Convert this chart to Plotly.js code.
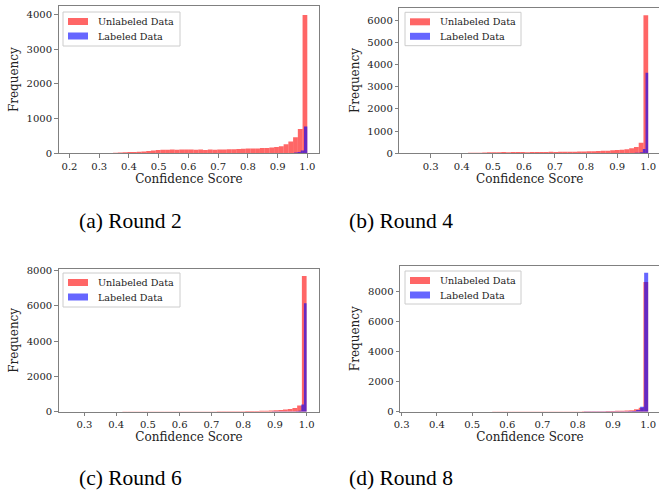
<!DOCTYPE html>
<html><head><meta charset="utf-8">
<script src="https://cdn.plot.ly/plotly-3.0.1.min.js"></script>
<style>html,body{margin:0;padding:0;background:#fff;overflow:hidden}#chart{width:661px;height:491px}</style>
</head><body><div id="chart"></div>
<script>
// ---- data ----
const panelLabels = ['(a) Round 2', '(b) Round 4', '(c) Round 6', '(d) Round 8'];
const seriesNames = ['Unlabeled Data', 'Labeled Data'];
const xTitle = 'Confidence Score';
const yTitle = 'Frequency';

// each histogram: 50 bins spanning [min, max]
const unlabeledRange2 = [0.203, 1.0];
const unlabeled2 = [0,1,1,2,2,3,5,8,12,16, 22,30,36,40,42,55,65,80,95,105,
                    100,108,105,110,108,112,105,110,95,108, 105,112,110,118,115,125,130,135,140,138,
                    150,155,165,180,200,260,340,460,700,3980];
const labeledRange2 = [0.445, 1.0];
const labeled2 = [0,0,0,0,0,0,0,0,0,0, 0,0,0,0,0,0,1,0,0,1, 0,1,0,1,1,0,1,1,1,1,
                  1,2,1,2,2,2,3,2,3,3, 3,4,4,5,8,12,20,40,80,770];

const unlabeledRange4 = [0.237, 1.0];
const unlabeled4 = [0,0,1,1,2,3,4,6,8,10, 14,18,22,26,30,35,42,48,50,55,
                    52,58,55,60,52,58,62,55,60,65, 62,68,70,72,75,80,85,90,95,105,
                    110,120,135,150,165,185,230,285,470,6220];
const labeledRange4 = [0.57, 1.0];
const labeled4 = [0,0,0,0,0,0,0,0,0,0, 0,0,0,0,0,0,0,1,0,1, 0,1,1,1,1,1,1,2,2,2,
                  2,2,3,3,4,4,5,6,7,8, 9,10,12,14,16,20,25,50,190,3630];

const unlabeledRange6 = [0.256, 1.0];
const unlabeled6 = [0,0,0,1,1,1,2,2,3,3, 4,5,5,6,7,8,8,9,10,10,
                    11,12,12,13,14,14,15,16,17,18, 18,20,22,24,26,28,32,36,40,45,
                    52,60,68,78,90,120,150,210,350,7700];
const labeledRange6 = [0.58, 1.0];
const labeled6 = [0,0,0,0,0,0,0,0,0,0, 0,0,0,0,0,0,0,1,0,1, 0,1,1,1,1,1,1,2,2,2,
                  2,2,3,3,3,4,4,5,5,6, 7,8,9,10,12,14,20,60,410,6150];

const unlabeledRange8 = [0.329, 1.0];
const unlabeled8 = [0,0,0,0,1,1,1,1,2,2, 2,3,3,3,4,4,4,5,5,5,
                    6,6,7,7,8,8,9,9,10,11, 12,14,15,17,19,21,24,27,30,34,
                    38,44,50,58,68,82,100,155,265,8600];
const labeledRange8 = [0.43, 1.0];
const labeled8 = [0,0,0,0,0,0,0,0,0,0, 0,0,0,0,0,1,0,1,0,1, 1,1,1,1,1,2,2,2,2,3,
                  3,3,4,4,5,5,6,7,8,9, 10,12,14,16,20,25,50,120,330,9220];

const xTickVals2 = [0.2,0.3,0.4,0.5,0.6,0.7,0.8,0.9,1.0];
const xTickVals = [0.3,0.4,0.5,0.6,0.7,0.8,0.9,1.0];
const yTickVals2 = [0,1000,2000,3000,4000];
const yTickVals4 = [0,1000,2000,3000,4000,5000,6000];
const yTickVals6 = [0,2000,4000,6000,8000];
const yTickVals8 = [0,2000,4000,6000,8000];

// ---- layout settings ----
const W = 661, H = 491;
const panels = [
  {u: unlabeled2, ur: unlabeledRange2, l: labeled2, lr: labeledRange2, xr: [0.163, 1.040], yr: [0, 4240], xt: xTickVals2, yt: yTickVals2,
   px: [58.5, 319.2], py: [6, 153.3], leg: [63, 12, 180, 46], cap: [130, 221]},
  {u: unlabeled4, ur: unlabeledRange4, l: labeled4, lr: labeledRange4, xr: [0.199, 1.038], yr: [0, 6555], xt: xTickVals, yt: yTickVals4,
   px: [399.3, 660], py: [7.7, 153.3], leg: [405, 12.3, 521, 45.7], cap: [401, 221]},
  {u: unlabeled6, ur: unlabeledRange6, l: labeled6, lr: labeledRange6, xr: [0.219, 1.040], yr: [0, 8096], xt: xTickVals, yt: yTickVals6,
   px: [58.7, 319.3], py: [269, 411.7], leg: [63, 273, 180, 307], cap: [130, 478]},
  {u: unlabeled8, ur: unlabeledRange8, l: labeled8, lr: labeledRange8, xr: [0.2953, 1.0336], yr: [0, 9680], xt: xTickVals, yt: yTickVals8,
   px: [400, 660], py: [265.7, 411.7], leg: [405, 271, 521, 304], cap: [401, 478]}
];

const FONT = 'DejaVu Serif';
const SPINE = '#808080';
const colors = ['rgba(255,0,0,0.6)', 'rgba(0,0,255,0.6)'];

function binTrace(counts, range, name, color, xa, ya) {
  const w = (range[1] - range[0]) / counts.length;
  const xs = counts.map((_, i) => range[0] + (i + 0.5) * w);
  return {type: 'bar', x: xs, y: counts, width: w, name: name, xaxis: xa, yaxis: ya,
          showlegend: false, marker: {color: color, line: {width: 0}}, hoverinfo: 'x+y'};
}

const traces = [];
const layout = {
  width: W, height: H, margin: {l: 0, r: 0, t: 0, b: 0},
  paper_bgcolor: '#fff', plot_bgcolor: '#fff', barmode: 'overlay',
  font: {family: FONT, color: '#222', size: 10},
  annotations: [], shapes: [], showlegend: false
};
const px2x = v => v / W, px2y = v => 1 - v / H;

panels.forEach((p, k) => {
  const sfx = k === 0 ? '' : String(k + 1);
  const xa = 'x' + sfx, ya = 'y' + sfx;
  traces.push(binTrace(p.u, p.ur, seriesNames[0], colors[0], xa, ya));
  traces.push(binTrace(p.l, p.lr, seriesNames[1], colors[1], xa, ya));
  layout['xaxis' + sfx] = {
    domain: [p.px[0] / W, p.px[1] / W], anchor: ya, range: p.xr,
    tickvals: p.xt, tickformat: '.1f', ticks: 'outside', ticklen: 3.5, tickwidth: 1, tickcolor: SPINE,
    showline: true, linecolor: SPINE, linewidth: 1, mirror: true, showgrid: false, zeroline: false,
    tickfont: {family: FONT, size: 10, color: '#222'},
    title: {text: xTitle, font: {family: FONT, size: 12, color: '#222'}, standoff: 3},
    automargin: false, fixedrange: true
  };
  layout['yaxis' + sfx] = {
    domain: [1 - p.py[1] / H, 1 - p.py[0] / H], anchor: xa, range: p.yr,
    tickvals: p.yt, ticks: 'outside', ticklen: 3.5, tickwidth: 1, tickcolor: SPINE,
    showline: true, linecolor: SPINE, linewidth: 1, mirror: true, showgrid: false, zeroline: false,
    tickfont: {family: FONT, size: 10, color: '#222'},
    title: {text: yTitle, font: {family: FONT, size: 12, color: '#222'}, standoff: 5},
    automargin: false, fixedrange: true
  };
  // legend box (matplotlib style: frame, wide colour patches)
  const [lx0, ly0, lx1, ly1] = p.leg;
  layout.shapes.push({type: 'rect', xref: 'paper', yref: 'paper', layer: 'above',
    x0: px2x(lx0), x1: px2x(lx1), y0: px2y(ly1), y1: px2y(ly0),
    fillcolor: 'rgba(255,255,255,0.8)', line: {color: '#cccccc', width: 1}});
  seriesNames.forEach((nm, j) => {
    const cy = ly0 + 9.5 + j * 14.5;
    layout.shapes.push({type: 'rect', xref: 'paper', yref: 'paper', layer: 'above',
      x0: px2x(lx0 + 5), x1: px2x(lx0 + 25), y0: px2y(cy + 3.5), y1: px2y(cy - 3.5),
      fillcolor: colors[j], line: {width: 0}});
    layout.annotations.push({text: nm, xref: 'paper', yref: 'paper', x: px2x(lx0 + 33), y: px2y(cy),
      xanchor: 'left', yanchor: 'middle', showarrow: false,
      font: {family: FONT, size: 9.6, color: '#222'}});
  });
  layout.annotations.push({
    text: panelLabels[k], xref: 'paper', yref: 'paper', x: p.cap[0] / W, y: 1 - p.cap[1] / H,
    xanchor: 'center', yanchor: 'middle', showarrow: false,
    font: {family: 'Liberation Serif', size: 21.5, color: '#000'}
  });
});

Plotly.newPlot('chart', traces, layout, {staticPlot: true, displayModeBar: false});
</script>
</body></html>
